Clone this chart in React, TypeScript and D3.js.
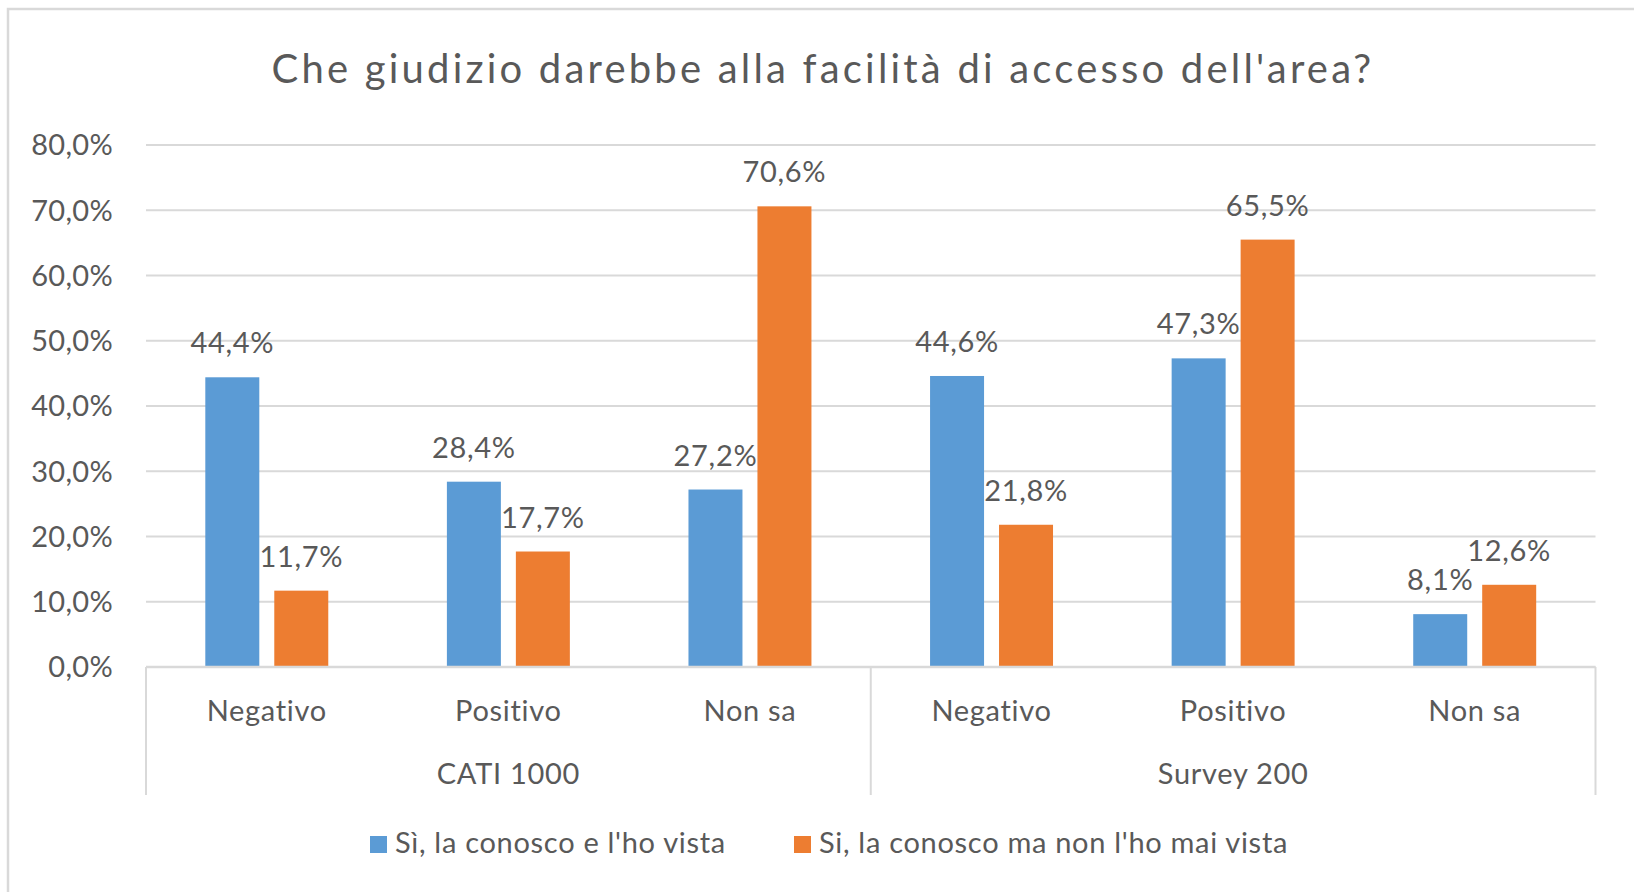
import React from "react";
import * as d3 from "d3";

const groups = ["CATI 1000", "Survey 200"];
const categories = ["Negativo", "Positivo", "Non sa"];
const seriesNames = ["Sì, la conosco e l'ho vista", "Si, la conosco ma non l'ho mai vista"];
const seriesColors = ["#5B9BD5", "#ED7D31"];
const seenValues = [44.4, 28.4, 27.2, 44.6, 47.3, 8.1];
const notSeenValues = [11.7, 17.7, 70.6, 21.8, 65.5, 12.6];
const yTicks = [0, 10, 20, 30, 40, 50, 60, 70, 80];
const title = "Che giudizio darebbe alla facilità di accesso dell'area?";

const W = 1634;
const H = 892;
const FONT = "Lato, 'Open Sans', sans-serif";
const TXT = "#595959";
const GRID = "#D9D9D9";
const FS = 29;
const LS = 0.7;

export default function App() {
  const left = 146;
  const right = 1595.5;
  const yBottom = 667;
  const yTop = 145;
  const cells = groups.flatMap((g, gi) => categories.map((c, ci) => ({ g, gi, c, key: `${gi}-${ci}` })));
  const x = d3.scaleBand<string>().domain(cells.map((d) => d.key)).range([left, right]).padding(0);
  const gx = d3.scaleBand<string>().domain(groups).range([left, right]).padding(0);
  const y = d3.scaleLinear().domain([0, 80]).range([yBottom, yTop]);
  const bw = x.bandwidth();
  const barW = bw * 0.2235;
  const gap = bw * 0.062;
  const fmt = (v: number) => v.toFixed(1).replace(".", ",") + "%";
  const series = [seenValues, notSeenValues];

  return (
    <svg width={W} height={H} style={{ position: "fixed", left: 0, top: 0, background: "#fff" }} fontFamily={FONT}>
      <rect x={0} y={0} width={W} height={H} fill="#fff" />
      <rect x={8} y={9} width={W + 40} height={H + 40} fill="#fff" stroke={GRID} strokeWidth={2.5} />
      <text x={823} y={83} textAnchor="middle" fontSize={40} letterSpacing={3.2} fill={TXT}>{title}</text>

      {yTicks.map((t) => (
        <g key={t}>
          <line x1={left} x2={right} y1={y(t)} y2={y(t)} stroke={GRID} strokeWidth={2} />
          <text x={113} y={y(t)} dy="0.36em" textAnchor="end" fontSize={FS} letterSpacing={0.3} fill={TXT}>{fmt(t)}</text>
        </g>
      ))}

      {cells.map((cell, i) => {
        const x0 = x(cell.key)!;
        const cx = x0 + bw / 2;
        return (
          <g key={cell.key}>
            {series.map((vals, si) => {
              const bx = si === 0 ? cx - gap / 2 - barW : cx + gap / 2;
              const v = vals[i];
              return (
                <g key={si}>
                  <rect x={bx} y={y(v)} width={barW} height={yBottom - y(v)} fill={seriesColors[si]} />
                  <text x={bx + barW / 2} y={y(v) - 24} textAnchor="middle" fontSize={FS} letterSpacing={LS} fill={TXT}>{fmt(v)}</text>
                </g>
              );
            })}
            <text x={cx} y={721} textAnchor="middle" fontSize={FS} letterSpacing={LS} fill={TXT}>{cell.c}</text>
          </g>
        );
      })}

      <line x1={left} x2={right} y1={yBottom} y2={yBottom} stroke={GRID} strokeWidth={2.5} />
      {[left, ...groups.map((g) => gx(g)! + gx.bandwidth())].map((xx, i) => (
        <line key={i} x1={xx} x2={xx} y1={yBottom} y2={795} stroke={GRID} strokeWidth={2} />
      ))}
      {groups.map((g) => (
        <text key={g} x={gx(g)! + gx.bandwidth() / 2} y={784} textAnchor="middle" fontSize={FS} letterSpacing={LS} fill={TXT}>{g}</text>
      ))}

      {seriesNames.map((s, i) => {
        const lx = i === 0 ? 370 : 794;
        return (
          <g key={s}>
            <rect x={lx} y={836} width={17} height={17} fill={seriesColors[i]} />
            <text x={lx + 25} y={853} fontSize={FS} letterSpacing={LS} fill={TXT}>{s}</text>
          </g>
        );
      })}
    </svg>
  );
}
